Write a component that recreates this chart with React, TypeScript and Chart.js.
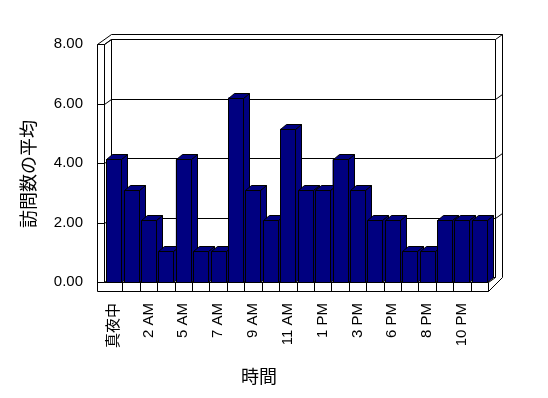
import React, { useEffect, useRef } from "react";
import { Chart, registerables } from "chart.js";

Chart.register(...registerables);

// ---- data ----
const categories = [
  "真夜中", "1 AM", "2 AM", "3 AM", "5 AM", "6 AM", "7 AM", "8 AM", "9 AM", "10 AM", "11 AM",
  "正午", "1 PM", "2 PM", "3 PM", "4 PM", "6 PM", "7 PM", "8 PM", "9 PM", "10 PM", "11 PM",
];
const averageVisits = [
  4.12, 3.09, 2.08, 1.03, 4.12, 1.03, 1.03, 6.2, 3.09, 2.08, 5.15,
  3.09, 3.09, 4.12, 3.09, 2.08, 2.08, 1.03, 1.03, 2.08, 2.08, 2.08,
];
const yTickValues = [0, 2, 4, 6, 8];
const yTitle = "訪問数の平均";
const xTitle = "時間";

const NAVY = "#000080";
const LATIN = '"Liberation Sans", Arial, "Noto Sans CJK JP", sans-serif';
const CJK = '"Noto Sans CJK JP", "Liberation Sans", sans-serif';

const box3d = {
  id: "box3d",
  beforeDraw(chart: any) {
    const ctx = chart.ctx;
    ctx.save();
    ctx.fillStyle = "#ffffff";
    ctx.fillRect(0, 0, chart.width, chart.height);
    ctx.restore();
  },
  beforeDatasetsDraw(chart: any) {
    const ctx = chart.ctx;
    const a = chart.chartArea;
    const L = Math.round(a.left);
    const R = Math.round(a.right);
    const T = Math.round(a.top);
    const B = Math.round(a.bottom);
    const yS = chart.scales.y;
    const line = (x1: number, y1: number, x2: number, y2: number) => {
      ctx.beginPath();
      ctx.moveTo(x1 + 0.5, y1 + 0.5);
      ctx.lineTo(x2 + 0.5, y2 + 0.5);
      ctx.stroke();
    };
    ctx.save();
    ctx.strokeStyle = "#000";
    ctx.lineWidth = 1;
    const oL = L - 8; // outer left front edge
    const iL = L - 1; // inner left front edge
    // left wall
    line(oL, T, oL, B + 9);
    line(iL, T, iL, B);
    line(oL, T, iL, T);
    line(oL, T, iL + 7, T - 10);
    line(iL, T, iL + 7, T - 5);
    // back wall
    line(iL + 7, T - 10, R + 14, T - 10);
    line(iL + 7, T - 5, R + 7, T - 5);
    line(iL + 7, T - 5, iL + 7, B - 5);
    line(R + 7, T - 5, R + 7, B - 5);
    line(R + 7, T - 5, R + 14, T - 10);
    line(R + 14, T - 10, R + 14, B - 5);
    line(R + 14, B - 5, R, B + 9);
    // floor
    line(iL + 7, B - 5, R + 7, B - 5);
    line(R + 7, B - 5, R, B);
    line(iL, B, R, B);
    line(oL, B + 9, R, B + 9);
    line(R, B, R, B + 9);
    const n = categories.length;
    const pitch = (a.right - a.left) / n;
    for (let k = 1; k < n; k++) {
      const x = Math.round(a.left + k * pitch);
      line(x, B, x, B + 9);
    }
    // ticks and back gridlines
    yTickValues.forEach((v) => {
      const y = Math.round(yS.getPixelForValue(v));
      line(oL, y, iL, y);
      line(iL, y, iL + 7, y - 5);
      if (v !== yTickValues[0] && v !== yTickValues[yTickValues.length - 1]) {
        line(iL + 7, y - 5, R + 7, y - 5);
        line(R + 7, y - 5, R + 14, y - 10);
      }
    });
    ctx.restore();
  },
  afterDatasetsDraw(chart: any) {
    const ctx = chart.ctx;
    const meta = chart.getDatasetMeta(0);
    ctx.save();
    ctx.fillStyle = NAVY;
    ctx.strokeStyle = "#000";
    ctx.lineWidth = 1;
    const dx = 6;
    const dy = -5;
    meta.data.forEach((el: any) => {
      const p = el.getProps(["x", "y", "base", "width"], true);
      const x0 = Math.round(p.x - p.width / 2) + 0.5;
      const x1 = Math.round(p.x + p.width / 2) + 0.5;
      const top = Math.round(p.y) + 0.5;
      const b = Math.round(p.base) + 0.5;
      const poly = (pts: number[][]) => {
        ctx.beginPath();
        ctx.moveTo(pts[0][0], pts[0][1]);
        for (let i = 1; i < pts.length; i++) ctx.lineTo(pts[i][0], pts[i][1]);
        ctx.closePath();
        ctx.fill();
        ctx.stroke();
      };
      poly([[x1, top], [x1 + dx, top + dy], [x1 + dx, b + dy], [x1, b]]);
      poly([[x0, top], [x0 + dx, top + dy], [x1 + dx, top + dy], [x1, top]]);
      poly([[x0, top], [x1, top], [x1, b], [x0, b]]);
    });
    ctx.restore();
  },
  afterDraw(chart: any) {
    const ctx = chart.ctx;
    ctx.save();
    ctx.fillStyle = "#000";
    ctx.font = `18px ${CJK}`;
    ctx.textAlign = "center";
    ctx.textBaseline = "middle";
    ctx.translate(28, 174);
    ctx.rotate(-Math.PI / 2);
    ctx.fillText(yTitle, 0, 0);
    ctx.restore();
    ctx.save();
    ctx.fillStyle = "#000";
    ctx.font = `18px ${CJK}`;
    ctx.textAlign = "center";
    ctx.textBaseline = "middle";
    ctx.fillText(xTitle, 259, 376);
    ctx.restore();
  },
};

export default function App() {
  const canvasRef = useRef<HTMLCanvasElement | null>(null);

  useEffect(() => {
    document.body.style.margin = "0";
    const canvas = canvasRef.current;
    if (!canvas) return;
    const chart = new Chart(canvas, {
      type: "bar",
      data: {
        labels: categories,
        datasets: [
          {
            label: yTitle,
            data: averageVisits,
            backgroundColor: NAVY,
            borderColor: "#000",
            borderWidth: 0,
            categoryPercentage: 1,
            barPercentage: 0.86,
          },
        ],
      },
      options: {
        responsive: false,
        animation: false,
        devicePixelRatio: 1,
        events: [],
        layout: { padding: { top: 44, right: 60, left: 0, bottom: 0 } },
        plugins: {
          legend: { display: false },
          tooltip: { enabled: false },
        },
        scales: {
          x: {
            grid: { display: false, drawTicks: false },
            border: { display: false },
            ticks: {
              autoSkip: false,
              minRotation: 90,
              maxRotation: 90,
              padding: 21,
              color: "#000",
              font: { family: LATIN, size: 15 },
              callback: (_v: any, i: number) => (i % 2 === 0 ? categories[i] : ""),
            },
            afterFit: (s: any) => {
              s.height = 116;
            },
          },
          y: {
            min: 0,
            max: 8,
            grid: { display: false, drawTicks: false },
            border: { display: false },
            ticks: {
              stepSize: 2,
              padding: 22,
              color: "#000",
              font: { family: LATIN, size: 15 },
              callback: (v: any) => Number(v).toFixed(2),
            },
            afterFit: (s: any) => {
              s.width = 105;
            },
          },
        },
      },
      plugins: [box3d],
    } as any);
    return () => chart.destroy();
  }, []);

  return (
    <div style={{ position: "absolute", left: 0, top: 0, width: 548, height: 398, background: "#fff" }}>
      <canvas ref={canvasRef} width={548} height={398} style={{ width: 548, height: 398, display: "block" }} />
    </div>
  );
}
